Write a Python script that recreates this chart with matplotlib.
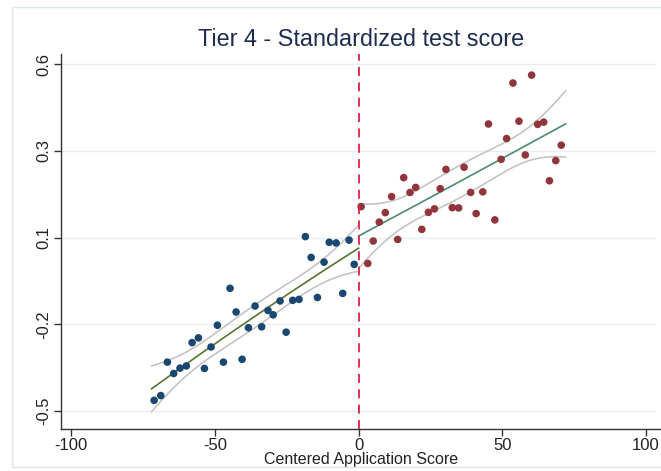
import numpy as np
import matplotlib
matplotlib.use('Agg')
import matplotlib.pyplot as plt
from matplotlib.patches import Rectangle

# binned means below the cutoff
x_left = [-71.1, -68.8, -66.5, -64.3, -62.1, -59.9, -57.9, -55.7, -53.6, -51.3, -49.1,
          -47.0, -44.7, -42.6, -40.5, -38.3, -36.0, -33.7, -31.5, -29.7, -27.3, -25.2,
          -22.9, -20.7, -18.5, -16.5, -14.3, -12.0, -10.2, -7.8, -5.5, -3.3, -1.5]
y_left = [-0.466, -0.451, -0.345, -0.381, -0.364, -0.357, -0.283, -0.268, -0.365, -0.297,
          -0.228, -0.345, -0.111, -0.186, -0.336, -0.236, -0.167, -0.233, -0.181, -0.195,
          -0.151, -0.250, -0.149, -0.146, 0.053, -0.013, -0.140, -0.028, 0.035, 0.033,
          -0.127, 0.042, -0.035]

# binned means above the cutoff
x_right = [0.9, 3.2, 5.1, 7.2, 9.3, 11.5, 13.6, 15.7, 17.9, 19.9, 22.0, 24.3, 26.4, 28.4,
           30.4, 32.6, 34.8, 36.7, 39.0, 40.9, 43.2, 45.2, 47.4, 49.6, 51.5, 53.7, 55.8,
           58.0, 60.2, 62.3, 64.4, 66.4, 68.6, 70.5]
y_right = [0.148, -0.032, 0.039, 0.099, 0.129, 0.180, 0.044, 0.240, 0.193, 0.209, 0.076,
           0.130, 0.141, 0.205, 0.266, 0.145, 0.144, 0.273, 0.193, 0.126, 0.195, 0.410,
           0.106, 0.298, 0.364, 0.540, 0.419, 0.312, 0.565, 0.409, 0.416, 0.230, 0.294,
           0.343]

ytick_vals = [-0.5, -0.225, 0.05, 0.325, 0.6]
ytick_labels = ['-0.5', '-0.2', '0.1', '0.3', '0.6']
xtick_vals = [-100, -50, 0, 50, 100]


def qfitci(x, y, lo, hi, t=2.04):
    # quadratic fit with 95% confidence band
    x = np.asarray(x)
    y = np.asarray(y)
    X = np.column_stack([np.ones_like(x), x, x**2])
    beta, _, _, _ = np.linalg.lstsq(X, y, rcond=None)
    resid = y - X @ beta
    s2 = resid @ resid / (len(x) - 3)
    cov = s2 * np.linalg.inv(X.T @ X)
    xs = np.linspace(lo, hi, 200)
    Xs = np.column_stack([np.ones_like(xs), xs, xs**2])
    fit = Xs @ beta
    se = np.sqrt(np.einsum('ij,jk,ik->i', Xs, cov, Xs))
    return xs, fit, fit - t * se, fit + t * se


plt.rcParams['font.family'] = ['Liberation Sans', 'DejaVu Sans']

fig = plt.figure(figsize=(6.61, 4.71), dpi=100)
fig.patches.append(Rectangle((12 / 661, 4 / 471), 1.0, 460 / 471, transform=fig.transFigure,
                             fill=False, edgecolor='#dfe8e8', linewidth=1.0))
ax = fig.add_axes([61 / 661, 42 / 471, 600 / 661, 375 / 471])

ax.set_xlim(-103.5, 105.2)
ax.set_ylim(-0.557, 0.632)

ax.hlines(ytick_vals, -103.5, 103.5, color='#e6eeee', linewidth=1.0, zorder=0)

xs, fit, lo, hi = qfitci(x_left, y_left, -72, 0)
ax.plot(xs, lo, color='#c4c4c4', linewidth=1.2, zorder=2)
ax.plot(xs, hi, color='#c4c4c4', linewidth=1.2, zorder=2)
ax.plot(xs, fit, color='#55752f', linewidth=1.2, zorder=3)

xs, fit, lo, hi = qfitci(x_right, y_right, 0, 72)
ax.plot(xs, lo, color='#c4c4c4', linewidth=1.2, zorder=2)
ax.plot(xs, hi, color='#c4c4c4', linewidth=1.2, zorder=2)
ax.plot(xs, fit, color='#4e8a6e', linewidth=1.2, zorder=3)

ax.scatter(x_left, y_left, s=30, color='#1a476f', edgecolors='none', zorder=4)
ax.scatter(x_right, y_right, s=30, color='#90353b', edgecolors='none', zorder=4)

ax.axvline(0, color='#e0204a', linewidth=1.3, linestyle=(0, (5, 3.5)), zorder=5)

for side in ['top', 'right']:
    ax.spines[side].set_visible(False)
for side in ['left', 'bottom']:
    ax.spines[side].set_color('#333333')
    ax.spines[side].set_linewidth(1.0)

ax.set_xticks(xtick_vals)
ax.set_xticklabels([str(v) for v in xtick_vals])
ax.set_yticks(ytick_vals)
ax.set_yticklabels(ytick_labels, rotation=90, va='center')
ax.tick_params(axis='both', direction='out', length=5, width=1, color='#333333',
               labelsize=12, labelcolor='#222222', pad=2)
ax.tick_params(axis='x', pad=1.5)

ax.set_xlabel('Centered Application Score', fontsize=11.5, color='#222222', labelpad=-1)
ax.set_title('Tier 4 - Standardized test score', fontsize=16.8, color='#1e2d4f', pad=6)

fig.savefig('out.png', dpi=100)
